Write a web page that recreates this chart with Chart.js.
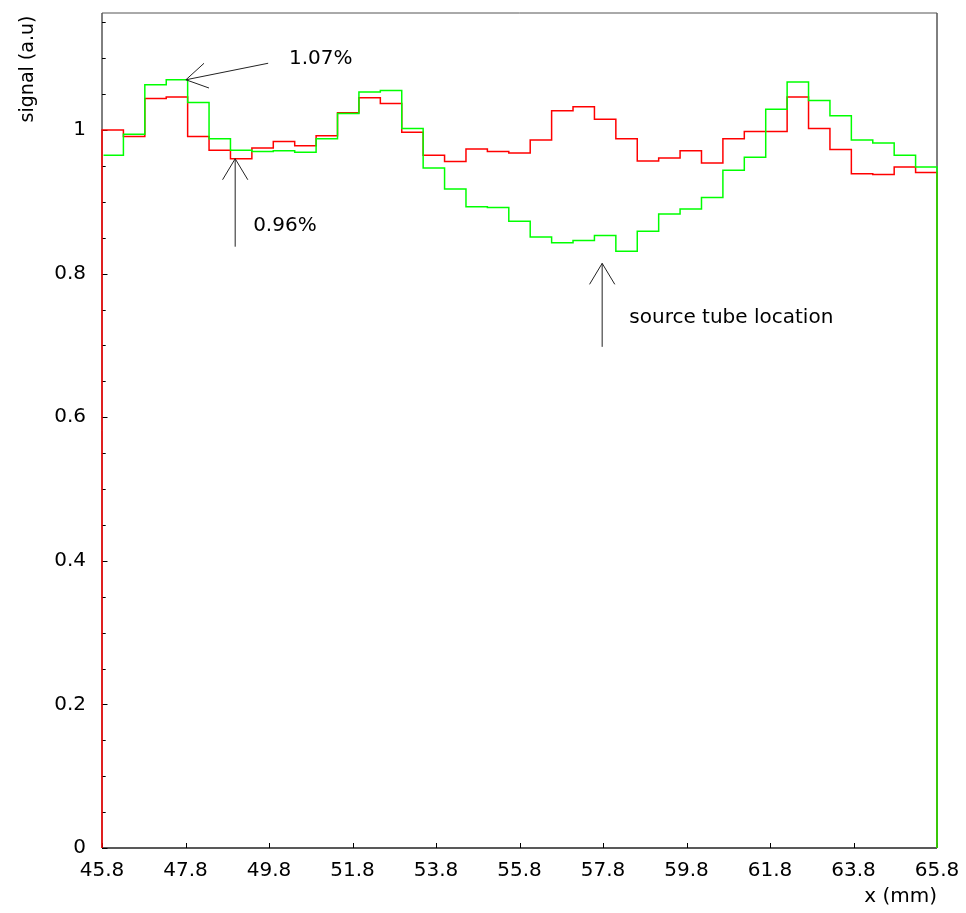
<!DOCTYPE html>
<html>
<head>
<meta charset="utf-8">
<script src="https://cdn.jsdelivr.net/npm/chart.js@4.4.1/dist/chart.umd.min.js"></script>
<style>
  html, body { margin: 0; padding: 0; background: #ffffff; }
  canvas { display: block; }
</style>
</head>
<body>
<canvas id="scan" width="966" height="913"></canvas>
<script>
// Scan range along x (mm); the histograms use equal-width bins over this range.
const xRange = [45.8, 65.8];

// Axis tick labels
const xTickValues = [45.8, 47.8, 49.8, 51.8, 53.8, 55.8, 57.8, 59.8, 61.8, 63.8, 65.8];
const yTickValues = [0, 0.2, 0.4, 0.6, 0.8, 1];
const yMax = 1.163;

// Normalised signal per bin (39 bins)
const signalGreen = [
  0.965, 0.994, 1.063, 1.07, 1.0385, 0.988, 0.972, 0.970, 0.971, 0.969,
  0.988, 1.023, 1.053, 1.055, 1.002, 0.947, 0.918, 0.893, 0.892, 0.873,
  0.851, 0.843, 0.846, 0.853, 0.831, 0.859, 0.883, 0.890, 0.906, 0.944,
  0.962, 1.029, 1.067, 1.041, 1.020, 0.986, 0.982, 0.965, 0.9485
];
const signalRed = [
  1.000, 0.991, 1.044, 1.046, 0.991, 0.972, 0.96, 0.975, 0.984, 0.978,
  0.992, 1.024, 1.045, 1.037, 0.997, 0.965, 0.956, 0.9735, 0.970, 0.968,
  0.986, 1.027, 1.0325, 1.015, 0.988, 0.957, 0.961, 0.971, 0.954, 0.988,
  0.998, 0.998, 1.046, 1.002, 0.973, 0.939, 0.938, 0.9485, 0.941
];

// Annotation arrows (data coordinates: tail -> tip) and labels
const arrows = [
  { tail: [49.78, 1.093], tip: [47.81, signalGreen[3]] },
  { tail: [48.99, 0.8375], tip: [48.99, signalRed[6]] },
  { tail: [57.78, 0.698], tip: [57.78, 0.8143] }
];
const notes = [
  { text: '1.07%', at: [50.28, 1.092] },
  { text: '0.96%', at: [49.42, 0.8593] },
  { text: 'source tube location', at: [58.43, 0.731] }
];

const FONT = '"DejaVu Sans", "Liberation Sans", sans-serif';

// Build step-histogram outline points: closed to zero at both ends.
function histogramPoints(values) {
  const w = (xRange[1] - xRange[0]) / values.length;
  const pts = [{ x: xRange[0], y: 0 }];
  values.forEach((v, i) => pts.push({ x: xRange[0] + i * w, y: v }));
  pts.push({ x: xRange[1], y: values[values.length - 1] });
  pts.push({ x: xRange[1], y: 0 });
  return pts;
}

function drawArrow(ctx, x0, y0, x1, y1) {
  const ang = Math.atan2(y1 - y0, x1 - x0);
  const len = 24.5, spread = 31 * Math.PI / 180;
  ctx.beginPath();
  ctx.moveTo(x0, y0);
  ctx.lineTo(x1, y1);
  ctx.moveTo(x1 - len * Math.cos(ang - spread), y1 - len * Math.sin(ang - spread));
  ctx.lineTo(x1, y1);
  ctx.lineTo(x1 - len * Math.cos(ang + spread), y1 - len * Math.sin(ang + spread));
  ctx.stroke();
}

const framePlugin = {
  id: 'frame',
  beforeDatasetsDraw(chart) {
    const { ctx, chartArea: ca } = chart;
    const ys = chart.scales.y, xs = chart.scales.x;
    ctx.save();
    // frame
    ctx.lineWidth = 1;
    ctx.strokeStyle = '#000';
    ctx.beginPath();
    ctx.moveTo(ca.left, ca.top); ctx.lineTo(ca.left, ca.bottom);
    ctx.moveTo(ca.right, ca.top); ctx.lineTo(ca.right, ca.bottom);
    ctx.stroke();
    ctx.lineWidth = 1.3;
    ctx.strokeStyle = '#222';
    ctx.beginPath();
    ctx.moveTo(ca.left, ca.bottom); ctx.lineTo(ca.right, ca.bottom);
    ctx.stroke();
    ctx.lineWidth = 1;
    ctx.strokeStyle = '#555';
    ctx.beginPath();
    ctx.moveTo(ca.left, ca.top); ctx.lineTo(ca.right, ca.top);
    ctx.stroke();
    // y ticks (inward): major every 0.2, minor every 0.05
    ctx.strokeStyle = '#000';
    ctx.lineWidth = 1;
    ctx.beginPath();
    for (let k = 0; k * 0.05 <= yMax + 1e-9; k++) {
      const py = Math.round(ys.getPixelForValue(k * 0.05)) + 0.5;
      const L = (k % 4 === 0) ? 5.5 : 3.7;
      ctx.moveTo(ca.left, py); ctx.lineTo(ca.left + L, py);
    }
    // x ticks (inward)
    xTickValues.forEach(v => {
      const px = Math.round(xs.getPixelForValue(v)) + 0.5;
      ctx.moveTo(px, ca.bottom); ctx.lineTo(px, ca.bottom - 5);
    });
    ctx.stroke();
    ctx.restore();
  },
  afterDatasetsDraw(chart) {
    const { ctx } = chart;
    const xs = chart.scales.x, ys = chart.scales.y;
    ctx.save();
    ctx.strokeStyle = '#222';
    ctx.lineWidth = 1;
    arrows.forEach(a => {
      drawArrow(ctx,
        xs.getPixelForValue(a.tail[0]), ys.getPixelForValue(a.tail[1]),
        xs.getPixelForValue(a.tip[0]), ys.getPixelForValue(a.tip[1]));
    });
    ctx.fillStyle = '#000';
    ctx.font = '20px ' + FONT;
    ctx.textAlign = 'left';
    ctx.textBaseline = 'alphabetic';
    notes.forEach(n => {
      ctx.fillText(n.text, xs.getPixelForValue(n.at[0]), ys.getPixelForValue(n.at[1]));
    });
    // axis titles
    ctx.textAlign = 'right';
    ctx.fillText('x (mm)', chart.chartArea.right, 902);
    ctx.translate(32.5, 69);
    ctx.rotate(-Math.PI / 2);
    ctx.font = '19px ' + FONT;
    ctx.textAlign = 'center';
    ctx.fillText('signal (a.u)', 0, 0);
    ctx.restore();
  }
};

new Chart(document.getElementById('scan'), {
  type: 'line',
  data: {
    datasets: [
      {
        label: 'green',
        data: histogramPoints(signalGreen),
        borderColor: '#00ff00',
        borderWidth: 1.5,
        pointRadius: 0,
        stepped: true,
        fill: false,
        clip: { left: -1.5, right: 3, top: 3, bottom: 3 }
      },
      {
        label: 'red',
        data: histogramPoints(signalRed),
        borderColor: '#ff0000',
        borderWidth: 1.5,
        pointRadius: 0,
        stepped: true,
        fill: false,
        clip: 3
      }
    ]
  },
  options: {
    responsive: false,
    animation: false,
    events: [],
    layout: { padding: { left: 0, right: 29, top: 13, bottom: 0 } },
    plugins: { legend: { display: false }, tooltip: { enabled: false } },
    scales: {
      x: {
        type: 'linear',
        min: xRange[0],
        max: xRange[1],
        afterBuildTicks: s => { s.ticks = xTickValues.map(v => ({ value: v })); },
        afterFit: s => { s.height = 65; s.paddingLeft = 0; s.paddingRight = 0; },
        grid: { display: false, drawTicks: false },
        border: { display: false },
        ticks: {
          color: '#000',
          font: { family: FONT, size: 20 },
          padding: 11,
          maxRotation: 0,
          autoSkip: false,
          callback: v => Number(v).toFixed(1)
        }
      },
      y: {
        type: 'linear',
        min: 0,
        max: yMax,
        afterBuildTicks: s => { s.ticks = yTickValues.map(v => ({ value: v })); },
        afterFit: s => { s.width = 102; s.paddingTop = 0; s.paddingBottom = 0; },
        grid: { display: false, drawTicks: false },
        border: { display: false },
        ticks: {
          color: '#000',
          font: { family: FONT, size: 20 },
          padding: 16,
          autoSkip: false,
          callback: v => String(v)
        }
      }
    }
  },
  plugins: [framePlugin]
});
</script>
</body>
</html>
